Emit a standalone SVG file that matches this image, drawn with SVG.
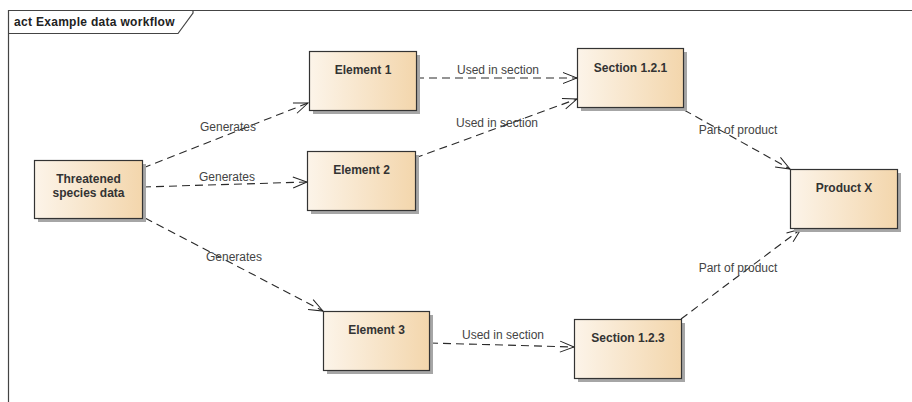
<svg xmlns="http://www.w3.org/2000/svg" width="912" height="402" viewBox="0 0 912 402">
<defs>
<linearGradient id="g" x1="0" y1="0" x2="1" y2="0">
<stop offset="0" stop-color="#FCF4E9"/>
<stop offset="1" stop-color="#F3D6AC"/>
</linearGradient>
<marker id="arr" markerUnits="userSpaceOnUse" markerWidth="18" markerHeight="14" refX="15" refY="6" orient="auto" overflow="visible">
<path d="M1,0.5 L15,6 L1,11.5" fill="none" stroke="#222" stroke-width="1"/>
</marker>
</defs>
<style>
.frame{fill:none;stroke:#444;stroke-width:1.2}
.title{font-family:"Liberation Sans",Arial,sans-serif;font-size:12px;font-weight:bold;fill:#222;letter-spacing:0.3px}
.box{fill:url(#g);stroke:#333;stroke-width:1.2}
.sh{fill:#A6A6A6}
.nt{font-family:"Liberation Sans",Arial,sans-serif;font-size:12px;font-weight:bold;fill:#333;text-anchor:middle}
.edge{fill:none;stroke:#2a2a2a;stroke-width:1.1;stroke-dasharray:8,5;marker-end:url(#arr)}
.lbl{font-family:"Liberation Sans",Arial,sans-serif;font-size:12px;fill:#444;text-anchor:middle}
</style>
<rect width="912" height="402" fill="#fff"/>
<g id="frame">
<path class="frame" d="M8.5,402 V10.5 H912"/>
<path class="frame" d="M8.5,33.5 H178 L193,13 V10.5"/>
<text class="title" x="14" y="26">act Example data workflow</text>
</g>
<g id="connectors">
<path class="edge" d="M143,168 L308,103"/>
<path class="edge" d="M143,187 L307,182"/>
<path class="edge" d="M145,218 L323,311"/>
<path class="edge" d="M416,78 L577,78"/>
<path class="edge" d="M415,158 L577,99"/>
<path class="edge" d="M430,343 L574,347"/>
<path class="edge" d="M684,110 L790,169"/>
<path class="edge" d="M681,319 L801,229"/>
<text class="lbl" x="228" y="131">Generates</text>
<text class="lbl" x="227" y="181">Generates</text>
<text class="lbl" x="234" y="261">Generates</text>
<text class="lbl" x="498" y="74">Used in section</text>
<text class="lbl" x="497" y="127">Used in section</text>
<text class="lbl" x="503" y="339">Used in section</text>
<text class="lbl" x="738" y="134">Part of product</text>
<text class="lbl" x="738" y="272">Part of product</text>
</g>
<g id="threatened">
<rect class="sh" x="38" y="164" width="108" height="58"/>
<rect class="box" x="34.5" y="160.5" width="108" height="58"/>
<text class="nt" x="88.5" y="183">Threatened</text>
<text class="nt" x="88.5" y="197">species data</text>
</g>
<g id="element1">
<rect class="sh" x="313" y="55" width="107" height="59"/>
<rect class="box" x="309.5" y="51.5" width="107" height="59"/>
<text class="nt" x="363" y="74">Element 1</text>
</g>
<g id="element2">
<rect class="sh" x="311" y="155" width="108" height="59"/>
<rect class="box" x="307.5" y="151.5" width="108" height="59"/>
<text class="nt" x="361.5" y="174">Element 2</text>
</g>
<g id="element3">
<rect class="sh" x="327" y="315" width="106" height="59"/>
<rect class="box" x="323.5" y="311.5" width="106" height="59"/>
<text class="nt" x="376.5" y="334">Element 3</text>
</g>
<g id="section121">
<rect class="sh" x="581" y="52" width="106" height="59"/>
<rect class="box" x="577.5" y="48.5" width="106" height="59"/>
<text class="nt" x="630.5" y="72">Section 1.2.1</text>
</g>
<g id="section123">
<rect class="sh" x="578" y="323" width="107" height="59"/>
<rect class="box" x="574.5" y="319.5" width="107" height="59"/>
<text class="nt" x="628" y="342">Section 1.2.3</text>
</g>
<g id="productx">
<rect class="sh" x="794" y="173" width="107" height="59"/>
<rect class="box" x="790.5" y="169.5" width="107" height="59"/>
<text class="nt" x="844" y="192">Product X</text>
</g>
</svg>
